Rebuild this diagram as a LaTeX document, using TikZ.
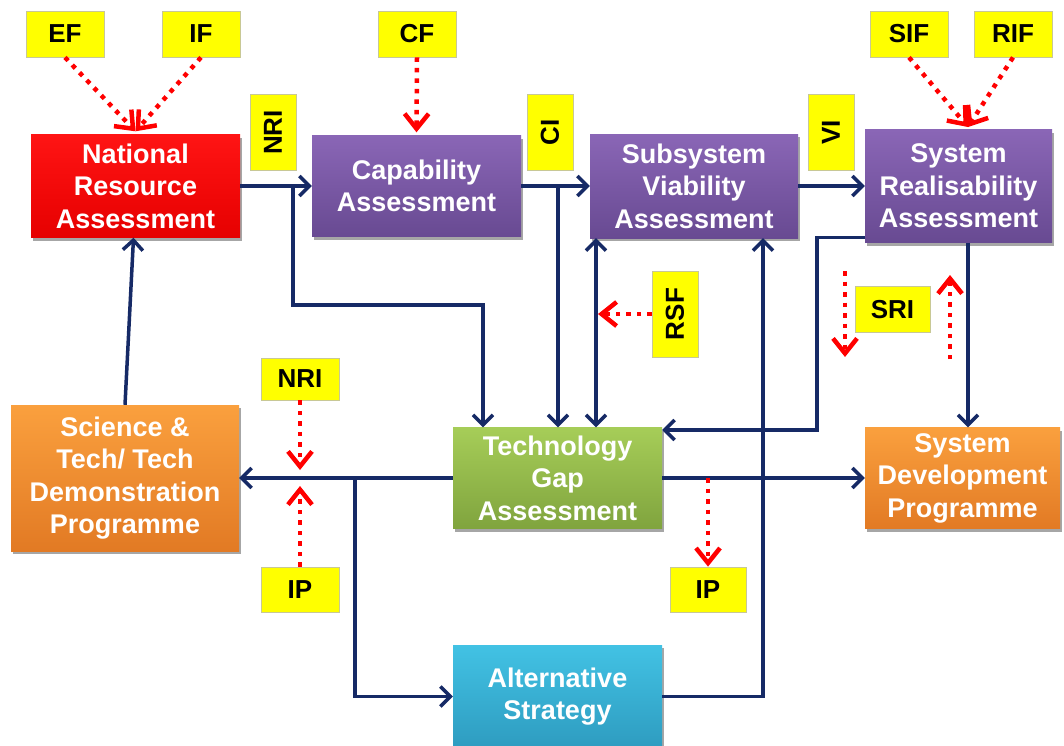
\documentclass[tikz,border=0pt]{standalone}
\usepackage{fontspec}
\setmainfont{Liberation Sans}
\usetikzlibrary{arrows.meta,shadows}

\definecolor{navy}{RGB}{22,42,102}
\definecolor{labelyellow}{RGB}{255,255,0}
\definecolor{labelrim}{RGB}{200,200,150}
\definecolor{redTop}{RGB}{255,20,20}
\definecolor{redBot}{RGB}{230,0,0}
\definecolor{purpleTop}{RGB}{138,102,182}
\definecolor{purpleBot}{RGB}{104,74,146}
\definecolor{orangeTop}{RGB}{250,160,62}
\definecolor{orangeBot}{RGB}{226,122,36}
\definecolor{greenTop}{RGB}{166,205,88}
\definecolor{greenBot}{RGB}{128,164,62}
\definecolor{blueTop}{RGB}{66,194,228}
\definecolor{blueBot}{RGB}{46,156,192}

\tikzset{
  blk/.style={rectangle, inner sep=2pt, align=center, text=white,
    font=\bfseries\fontsize{27}{32.5}\selectfont,
    drop shadow={shadow xshift=2pt, shadow yshift=-3pt, opacity=0.35, fill=black}},
  redbox/.style={blk, top color=redTop, bottom color=redBot},
  purplebox/.style={blk, top color=purpleTop, bottom color=purpleBot},
  orangebox/.style={blk, top color=orangeTop, bottom color=orangeBot},
  greenbox/.style={blk, top color=greenTop, bottom color=greenBot},
  bluebox/.style={blk, top color=blueTop, bottom color=blueBot},
  lbl/.style={rectangle, fill=labelyellow, draw=labelrim, line width=0.8pt,
    font=\bfseries\fontsize{26}{30}\selectfont, text=black, inner sep=0pt},
  navytip/.tip={Straight Barb[length=10pt,width=20pt]},
  redtip/.tip={Straight Barb[length=15pt,width=24pt]},
  flow/.style={draw=navy, line width=3.5pt, -navytip},
  flowboth/.style={draw=navy, line width=3.5pt, navytip-navytip},
  feed/.style={draw=red, line width=4.5pt, dash pattern=on 4.5pt off 6pt, -redtip},
}

\begin{document}
\begin{tikzpicture}[x=1pt,y=-1pt]
\useasboundingbox[fill=white] (0,0) rectangle (1064,745);

% process boxes
\node[redbox, minimum width=209pt, minimum height=103pt] (nra) at (135.5,186) {National\\Resource\\Assessment};
\node[purplebox, minimum width=209pt, minimum height=101pt] (cap) at (416.5,186) {Capability\\Assessment};
\node[purplebox, minimum width=208pt, minimum height=104pt] (sva) at (694,186) {Subsystem\\Viability\\Assessment};
\node[purplebox, minimum width=187pt, minimum height=113pt] (sra) at (958.5,186) {System\\Realisability\\Assessment};
\node[orangebox, minimum width=228pt, minimum height=146pt] (sci) at (125,478) {Science \&\\Tech/ Tech\\Demonstration\\Programme};
\node[greenbox, minimum width=209pt, minimum height=101pt] (tga) at (557.5,478) {Technology\\Gap\\Assessment};
\node[orangebox, minimum width=195pt, minimum height=101pt] (sdp) at (962.5,478) {System\\Development\\Programme};
\node[bluebox, minimum width=209pt, minimum height=103pt] (alt) at (557.5,696.5) {Alternative\\Strategy};

% yellow tags
\node[lbl, minimum width=78pt, minimum height=46pt] (ef) at (65,34) {EF};
\node[lbl, minimum width=78pt, minimum height=46pt] (if) at (201,34) {IF};
\node[lbl, minimum width=78pt, minimum height=46pt] (cf) at (417,34) {CF};
\node[lbl, minimum width=78pt, minimum height=46pt] (sif) at (909,34) {SIF};
\node[lbl, minimum width=78pt, minimum height=46pt] (rif) at (1013,34) {RIF};
\node[lbl, rotate=90, minimum width=76pt, minimum height=46pt] (nri1) at (273,132.5) {NRI};
\node[lbl, rotate=90, minimum width=76pt, minimum height=46pt] (ci) at (550,132.5) {CI};
\node[lbl, rotate=90, minimum width=76pt, minimum height=46pt] (vi) at (831,132.5) {VI};
\node[lbl, rotate=90, minimum width=86pt, minimum height=46pt] (rsf) at (675,314) {RSF};
\node[lbl, minimum width=75pt, minimum height=46pt] (sri) at (892.5,309.5) {SRI};
\node[lbl, minimum width=78pt, minimum height=42pt] (nri2) at (300,379) {NRI};
\node[lbl, minimum width=78pt, minimum height=45pt] (ip1) at (300,589.5) {IP};
\node[lbl, minimum width=76pt, minimum height=45pt] (ip2) at (708,589.5) {IP};

% routing points
\coordinate (j1) at (293,186);
\coordinate (k1) at (483,305);
\coordinate (j2) at (558,186);
\coordinate (c3) at (596,300);
\coordinate (c4) at (763,600);
\coordinate (c5) at (817,430);
\coordinate (c6) at (968,300);
\coordinate (j3) at (355,478);
\coordinate (j4) at (708,478);

% main flow
\draw[flow] (nra.east) -- (cap.west);
\draw[flow] (cap.east) -- (sva.west);
\draw[flow] (sva.east) -- (sra.west);
\draw[flow] (j1) |- (k1) -- (k1 |- tga.north);
\draw[flow] (j2) -- (j2 |- tga.north);
\draw[flowboth] (c3 |- sva.south) -- (c3 |- tga.north);
\draw[flow] (alt.east) -| (c4 |- sva.south);
\draw[flow] ([yshift=5pt]sra.south west) -| (c5) -- (c5 -| tga.east);
\draw[flow] (c6 |- sra.south) -- (c6 |- sdp.north);
\draw[flow] (tga.east) -- (sdp.west);
\draw[flow] (tga.west) -- (sci.east);
\draw[flow] (j3) |- (alt.west);
\draw[flow] (sci.north) -- ([xshift=-2pt]nra.south);

% dotted feeds
\coordinate (nratop) at ([yshift=3pt]nra.north);
\coordinate (sratop) at (968,127);
\coordinate (d1) at (845,271);
\coordinate (d2) at (845,357);
\coordinate (u1) at (950,359);
\coordinate (u2) at (950,275);
\coordinate (m1) at (300,470);
\coordinate (m2) at (300,486);
\draw[feed] (ef.south) -- (nratop);
\draw[feed] (if.south) -- (nratop);
\draw[feed] (cf.south) -- ([yshift=3pt]cap.north);
\draw[feed] (sif.south) -- (sratop);
\draw[feed] (rif.south) -- (sratop);
\draw[feed] (rsf.north) -- ([xshift=2pt]rsf.north -| c3);
\draw[feed] (d1) -- (d2);
\draw[feed] (u1) -- (u2);
\draw[feed] (nri2.south) -- (m1);
\draw[feed] (ip1.north) -- (m2);
\draw[feed] (j4) -- (ip2.north);
\end{tikzpicture}
\end{document}
